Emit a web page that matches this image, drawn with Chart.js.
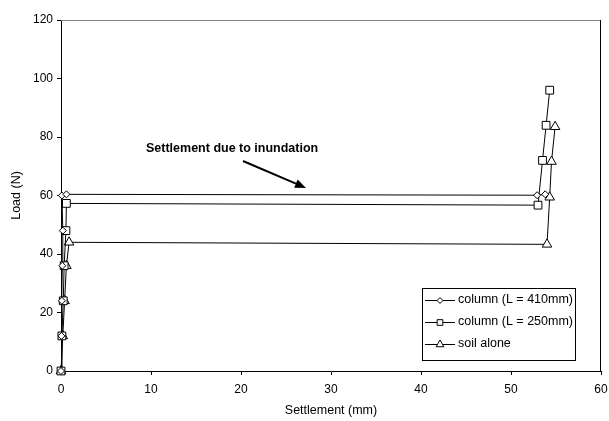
<!DOCTYPE html>
<html>
<head>
<meta charset="utf-8">
<script src="https://cdn.jsdelivr.net/npm/chart.js@4/dist/chart.umd.min.js"></script>
<style>
html,body{margin:0;padding:0;background:#fff;}
#wrap{width:609px;height:421px;position:relative;}
</style>
</head>
<body>
<div id="wrap"><canvas id="c" width="609" height="421"></canvas></div>
<script>
// Data
const xTicks = [0, 10, 20, 30, 40, 50, 60];
const yTicks = [0, 20, 40, 60, 80, 100, 120];

const col410Label = 'column (L = 410mm)';
const col410X = [0, 0.05, 0.1, 0.15, 0.2, 0.1, 0.6, 52.9, 53.8];
const col410Y = [0, 12, 24, 36, 48, 60, 60.4, 60.1, 60.4];

const col250Label = 'column (L = 250mm)';
const col250X = [0, 0.1, 0.25, 0.35, 0.55, 0.6, 53.0, 53.5, 53.9, 54.3];
const col250Y = [0, 12, 24, 36, 48, 57.3, 56.7, 72, 84, 96];

const soilLabel = 'soil alone';
const soilX = [0, 0.2, 0.4, 0.6, 0.9, 54.0, 54.3, 54.5, 54.9];
const soilY = [0, 12, 24, 36, 44, 43.3, 59.4, 71.6, 83.5];

const annotationText = 'Settlement due to inundation';
const xTitle = 'Settlement (mm)';
const yTitle = 'Load (N)';

function pts(xs, ys) { return xs.map((x, i) => ({ x: x, y: ys[i] })); }

const FONT = 'Arial, "Liberation Sans", sans-serif';

const series = [
  { label: col410Label, data: pts(col410X, col410Y), pointStyle: 'rectRot', pointRadius: 3.5 },
  { label: col250Label, data: pts(col250X, col250Y), pointStyle: 'rect', pointRadius: 5.5 },
  { label: soilLabel, data: pts(soilX, soilY), pointStyle: 'triangle', pointRadius: 5.5 }
];

const decor = {
  id: 'decor',
  afterDraw(chart) {
    const ctx = chart.ctx;
    const a = chart.chartArea;
    ctx.save();
    // plot border top/right
    ctx.lineWidth = 1;
    ctx.strokeStyle = '#808080';
    ctx.beginPath();
    ctx.moveTo(a.left, a.top + 0.5);
    ctx.lineTo(a.right, a.top + 0.5);
    ctx.stroke();
    ctx.strokeStyle = '#000';
    ctx.beginPath();
    ctx.moveTo(a.right - 0.5, a.top);
    ctx.lineTo(a.right - 0.5, a.bottom);
    ctx.stroke();

    // axis titles
    ctx.fillStyle = '#000';
    ctx.font = '12.5px ' + FONT;
    ctx.textAlign = 'center';
    ctx.textBaseline = 'middle';
    ctx.fillText(xTitle, (a.left + a.right) / 2, 411);
    ctx.save();
    ctx.translate(17, (a.top + a.bottom) / 2);
    ctx.rotate(-Math.PI / 2);
    ctx.fillText(yTitle, 0, 0);
    ctx.restore();

    // annotation
    ctx.font = 'bold 12.5px ' + FONT;
    ctx.textAlign = 'left';
    ctx.fillText(annotationText, 146, 149);
    const x0 = 243, y0 = 161, x1 = 306, y1 = 188;
    const ang = Math.atan2(y1 - y0, x1 - x0);
    const hl = 11, hw = 4.5;
    const bx = x1 - hl * Math.cos(ang), by = y1 - hl * Math.sin(ang);
    ctx.strokeStyle = '#000';
    ctx.lineWidth = 2;
    ctx.beginPath();
    ctx.moveTo(x0, y0);
    ctx.lineTo(bx, by);
    ctx.stroke();
    ctx.beginPath();
    ctx.moveTo(x1, y1);
    ctx.lineTo(bx + hw * Math.sin(ang), by - hw * Math.cos(ang));
    ctx.lineTo(bx - hw * Math.sin(ang), by + hw * Math.cos(ang));
    ctx.closePath();
    ctx.fillStyle = '#000';
    ctx.fill();

    // legend
    const lx = 422, ly = 288, lw = 154, lh = 73;
    ctx.fillStyle = '#fff';
    ctx.fillRect(lx, ly, lw, lh);
    ctx.strokeStyle = '#000';
    ctx.lineWidth = 1;
    ctx.strokeRect(lx + 0.5, ly + 0.5, lw - 1, lh - 1);
    const rowsY = [300, 322, 344];
    const legR = [3, 4, 4.5];
    ctx.font = '12.5px ' + FONT;
    ctx.textBaseline = 'middle';
    series.forEach((s, i) => {
      const yy = rowsY[i] + 0.5;
      ctx.strokeStyle = '#000';
      ctx.lineWidth = 1;
      ctx.beginPath();
      ctx.moveTo(425, yy);
      ctx.lineTo(455, yy);
      ctx.stroke();
      ctx.fillStyle = '#fff';
      ctx.strokeStyle = '#000';
      ctx.lineWidth = 1;
      Chart.helpers.drawPoint(ctx, { pointStyle: s.pointStyle, radius: legR[i], rotation: 0, borderWidth: 1 }, 440, yy);
      ctx.fillStyle = '#000';
      ctx.textAlign = 'left';
      ctx.fillText(s.label, 458, rowsY[i]);
    });
    ctx.restore();
  }
};

new Chart(document.getElementById('c'), {
  type: 'scatter',
  data: {
    datasets: series.map(s => ({
      label: s.label,
      data: s.data,
      showLine: true,
      borderColor: '#000',
      borderWidth: 1,
      tension: 0,
      pointStyle: s.pointStyle,
      pointRadius: s.pointRadius,
      pointBackgroundColor: '#fff',
      pointBorderColor: '#000',
      pointBorderWidth: 1,
      clip: false
    }))
  },
  options: {
    responsive: false,
    animation: false,
    events: [],
    layout: { padding: { left: 0, right: 8, top: 20, bottom: 0 } },
    plugins: { legend: { display: false }, tooltip: { enabled: false } },
    scales: {
      x: {
        type: 'linear', min: 0, max: 60,
        afterFit(s) { s.height = 50; s.paddingRight = 0; s.paddingLeft = 0; },
        afterBuildTicks(s) { s.ticks = xTicks.map(v => ({ value: v })); },
        grid: { drawOnChartArea: false, drawTicks: true, tickLength: 4, color: '#000' },
        border: { display: true, color: '#000', width: 1 },
        ticks: { color: '#000', font: { family: FONT, size: 12 }, padding: 7, maxRotation: 0 }
      },
      y: {
        type: 'linear', min: 0, max: 120,
        afterFit(s) { s.width = 61; s.paddingTop = 0; s.paddingBottom = 0; },
        afterBuildTicks(s) { s.ticks = yTicks.map(v => ({ value: v })); },
        grid: { drawOnChartArea: false, drawTicks: true, tickLength: 4, color: '#000' },
        border: { display: true, color: '#000', width: 1 },
        ticks: { color: '#000', font: { family: FONT, size: 12 }, padding: 4 }
      }
    }
  },
  plugins: [decor]
});
</script>
</body>
</html>
